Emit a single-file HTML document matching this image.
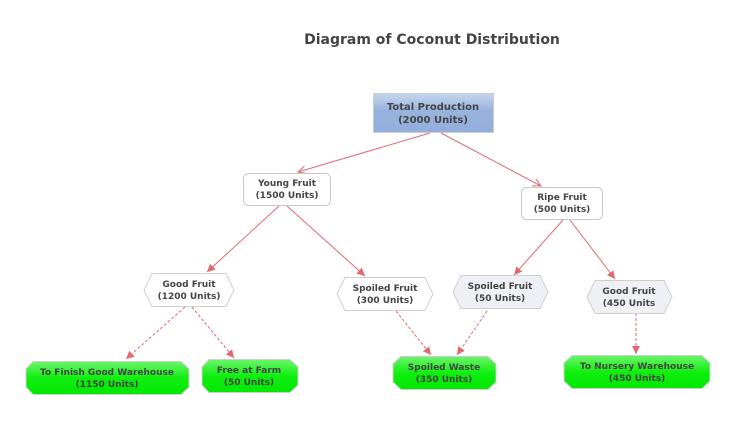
<!DOCTYPE html>
<html><head><meta charset="utf-8"><style>
body{margin:0;background:#fff;}
svg text{font-family:"DejaVu Sans","Liberation Sans",sans-serif;font-weight:bold;fill:#444;font-size:9px;text-anchor:middle;}
</style></head><body>
<svg width="736" height="419" viewBox="0 0 736 419" xmlns="http://www.w3.org/2000/svg">
<defs>
<linearGradient id="bl" x1="0" y1="0" x2="0" y2="1"><stop offset="0" stop-color="#c5d5ee"/><stop offset="0.45" stop-color="#98b2dd"/><stop offset="1" stop-color="#94aedc"/></linearGradient>
<linearGradient id="gr" x1="0" y1="0" x2="0" y2="1"><stop offset="0" stop-color="#6cf56c"/><stop offset="0.5" stop-color="#10ee10"/><stop offset="1" stop-color="#00e800"/></linearGradient>
<marker id="open" markerWidth="10" markerHeight="10" refX="8" refY="4" orient="auto" markerUnits="userSpaceOnUse"><path d="M0,0 L8,4 L0,8" fill="none" stroke="#e06a70" stroke-width="1"/></marker>
<marker id="fill" markerWidth="10" markerHeight="10" refX="8" refY="4" orient="auto" markerUnits="userSpaceOnUse"><path d="M0,0 L8,4 L0,8 Z" fill="#e06a70"/></marker>
</defs>
<text x="432" y="44" style="font-size:14px;fill:#444;font-family:'DejaVu Sans','Liberation Sans',sans-serif">Diagram of Coconut Distribution</text>
<g stroke="#e06a70" stroke-width="1" fill="none">
<line x1="430" y1="133" x2="298" y2="172" marker-end="url(#open)"/>
<line x1="441" y1="133" x2="541" y2="186" marker-end="url(#open)"/>
<line x1="279" y1="206" x2="207" y2="272" marker-end="url(#fill)"/>
<line x1="287" y1="206" x2="365" y2="276" marker-end="url(#fill)"/>
<line x1="563" y1="220" x2="514" y2="275" marker-end="url(#fill)"/>
<line x1="570" y1="220" x2="615" y2="279" marker-end="url(#fill)"/>
<g stroke-dasharray="3,2">
<line x1="185" y1="307" x2="126" y2="359" marker-end="url(#fill)"/>
<line x1="192" y1="307" x2="234" y2="358" marker-end="url(#fill)"/>
<line x1="396" y1="311" x2="431" y2="355" marker-end="url(#fill)"/>
<line x1="487" y1="311" x2="457" y2="355" marker-end="url(#fill)"/>
<line x1="636" y1="313" x2="636" y2="354" marker-end="url(#fill)"/>
</g></g>
<rect x="373.5" y="93.5" width="120" height="39" fill="url(#bl)" stroke="#c8ccd4"/>
<text x="433" y="110" style="font-size:10px">Total Production</text>
<text x="433" y="123" style="font-size:10px">(2000 Units)</text>
<rect x="243.5" y="173.5" width="87" height="32" rx="5" fill="#fff" stroke="#c8c8c8"/>
<text x="287" y="186">Young Fruit</text><text x="287" y="198">(1500 Units)</text>
<rect x="521.5" y="187.5" width="81" height="32" rx="5" fill="#fff" stroke="#c8c8c8"/>
<text x="562" y="200">Ripe Fruit</text><text x="562" y="212">(500 Units)</text>
<g stroke="#cfcfcf">
<polygon points="152,273.5 226,273.5 234,290 226,306.5 152,306.5 144,290" fill="#fff"/>
<polygon points="345,277.5 425,277.5 433,294 425,310.5 345,310.5 337,294" fill="#fff"/>
<polygon points="461,275.5 540,275.5 548,292 540,308.5 461,308.5 453,292" fill="#eef0f6"/>
<polygon points="595,280.5 664,280.5 672,297 664,313.5 595,313.5 587,297" fill="#eef0f6"/>
</g>
<text x="189" y="287">Good Fruit</text><text x="189" y="299">(1200 Units)</text>
<text x="385" y="291">Spoiled Fruit</text><text x="385" y="303">(300 Units)</text>
<text x="500" y="289">Spoiled Fruit</text><text x="500" y="301">(50 Units)</text>
<text x="629" y="294">Good Fruit</text><text x="629" y="306">(450 Units</text>
<g stroke="#cfcfcf" fill="url(#gr)">
<polygon points="33,361.5 181,361.5 189,369 189,387 181,394.5 33,394.5 26,387 26,369"/>
<polygon points="209,359.5 290,359.5 298,367 298,385 290,392.5 209,392.5 202,385 202,367"/>
<polygon points="401,356.5 488,356.5 496,364 496,382 488,389.5 401,389.5 393,382 393,364"/>
<polygon points="572,355.5 702,355.5 710,363 710,381 702,388.5 572,388.5 564,381 564,363"/>
</g>
<text x="107" y="375">To Finish Good Warehouse</text><text x="107" y="387">(1150 Units)</text>
<text x="249" y="373">Free at Farm</text><text x="249" y="385">(50 Units)</text>
<text x="444" y="370">Spoiled Waste</text><text x="444" y="382">(350 Units)</text>
<text x="637" y="369">To Nursery Warehouse</text><text x="637" y="381">(450 Units)</text>
</svg>
</body></html>
